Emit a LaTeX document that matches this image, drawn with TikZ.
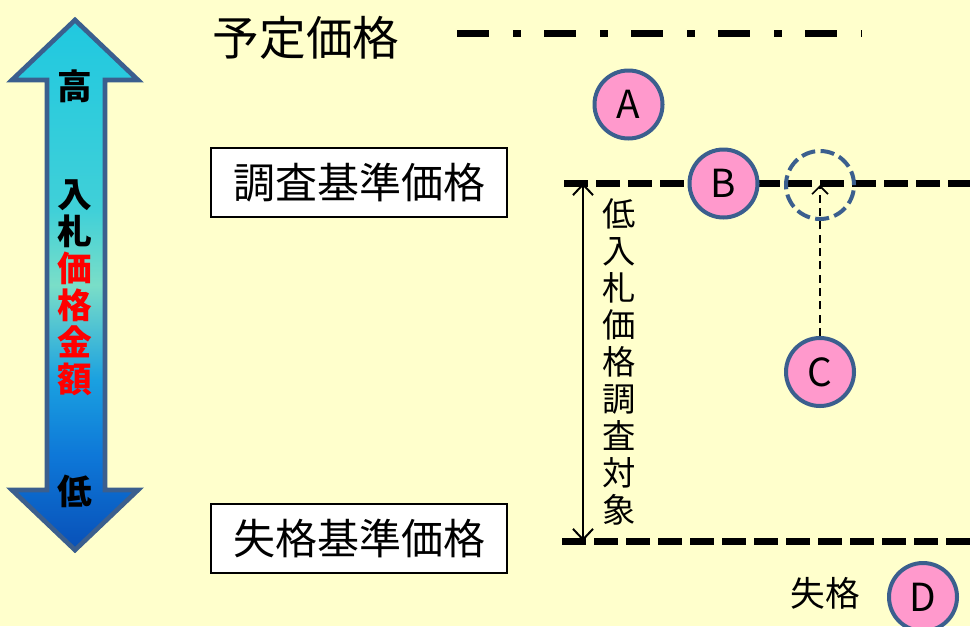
\documentclass[tikz,border=0pt]{standalone}
\usepackage{fontspec}
\setmainfont{Noto Sans CJK JP}
\usetikzlibrary{arrows.meta}
\definecolor{bgc}{HTML}{FFFFCC}
\definecolor{pinkc}{HTML}{FF99CC}
\definecolor{steel}{HTML}{3B5F8E}
\definecolor{redc}{HTML}{FF0000}
\definecolor{sa}{HTML}{0850B8}
\definecolor{sb}{HTML}{0E78D8}
\definecolor{sc}{HTML}{1AA0E0}
\definecolor{sd}{HTML}{7ADEC8}
\definecolor{se}{HTML}{40D0D8}
\definecolor{sf}{HTML}{20C8E0}
\pgfdeclareverticalshading{bigarrowshade}{100bp}{%
  color(0bp)=(sa);
  color(25bp)=(sa);
  color(34bp)=(sb);
  color(41bp)=(sc);
  color(50bp)=(sd);
  color(57bp)=(se);
  color(75bp)=(sf);
  color(100bp)=(sf)}
\begin{document}
\begin{tikzpicture}[x=0.75pt,y=-0.75pt,
  ptnode/.style={circle, fill=pinkc, draw=steel, line width=3pt, minimum size=51pt, inner sep=0pt, font=\fontsize{29pt}{30pt}\selectfont},
  lblbox/.style={draw=black, fill=white, line width=1.5pt, minimum width=222pt, minimum height=51.75pt, inner sep=0pt, font=\fontsize{31.5pt}{34pt}\selectfont},
  refline/.style={line width=5.25pt, dash pattern=on 18pt off 6pt},
  arrowlbl/.style={font=\fontsize{26pt}{27.75pt}\selectfont\bfseries, align=center, inner sep=0pt}
]
\useasboundingbox (0,0) rectangle (970,626);
\clip (0,0) rectangle (970,626);
% background
\fill[bgc] (0,0) rectangle (970,626);
% big double arrow
\shade[shading=bigarrowshade, draw=steel, line width=3.5pt, line join=miter]
  (75,20) -- (138,80) -- (105,80) -- (105,490) -- (138,490) -- (75,550)
  -- (12,490) -- (47,490) -- (47,80) -- (12,80) -- cycle;
\node[arrowlbl] (hi) at (75,86) {高};
\node[arrowlbl] (mid) at (75,288) {入\\札\\\textcolor{redc}{価}\\\textcolor{redc}{格}\\\textcolor{redc}{金}\\\textcolor{redc}{額}};
\node[arrowlbl] (lo) at (75,491) {低};
% title
\node[inner sep=0pt, font=\fontsize{35pt}{38pt}\selectfont] (yotei) at (306,38) {予定価格};
\coordinate (ydl) at (457,33);
\coordinate (ydr) at (862,33);
\draw[line width=5.25pt, dash pattern=on 24pt off 18pt on 6pt off 17.25pt] (ydl) -- (ydr);
% boxes
\node[lblbox] (chosa) at (359,182.5) {調査基準価格};
\node[lblbox] (shikkaku) at (359,538.5) {失格基準価格};
% reference lines
\coordinate (ul) at (564,183);
\coordinate (ur) at (970,183);
\coordinate (ll) at (562,541);
\coordinate (lr) at (970,541);
\draw[refline] (ul) -- (ur);
\draw[refline] (ll) -- (lr);
% vertical double arrow
\coordinate (vt) at (583,183);
\coordinate (vb) at (583,541);
\draw[line width=1.5pt, {Straight Barb[length=8pt,width=15pt]}-{Straight Barb[length=8pt,width=15pt]}] (vt) -- (vb);
\node[inner sep=0pt, align=center, font=\fontsize{25pt}{27.75pt}\selectfont] (taisho) at (619,362) {低\\入\\札\\価\\格\\調\\査\\対\\象};
% circles
\node[ptnode] (A) at (628.5,104.5) {A};
\node[ptnode] (B) at (723.5,183.5) {B};
\node[circle, draw=steel, line width=3pt, minimum size=51pt, inner sep=0pt, dash pattern=on 10.5pt off 4.06pt] (dc) at (820,185) {};
\node[ptnode] (C) at (820,372) {C};
\node[ptnode] (D) at (923,597) {D};
\draw[line width=1.2pt, dash pattern=on 6pt off 4pt, -{Straight Barb[length=6pt,width=12pt]}] (C.north) -- (dc.center);
\node[inner sep=0pt, font=\fontsize{26pt}{28pt}\selectfont] (shk) at (825,593) {失格};
\end{tikzpicture}
\end{document}
